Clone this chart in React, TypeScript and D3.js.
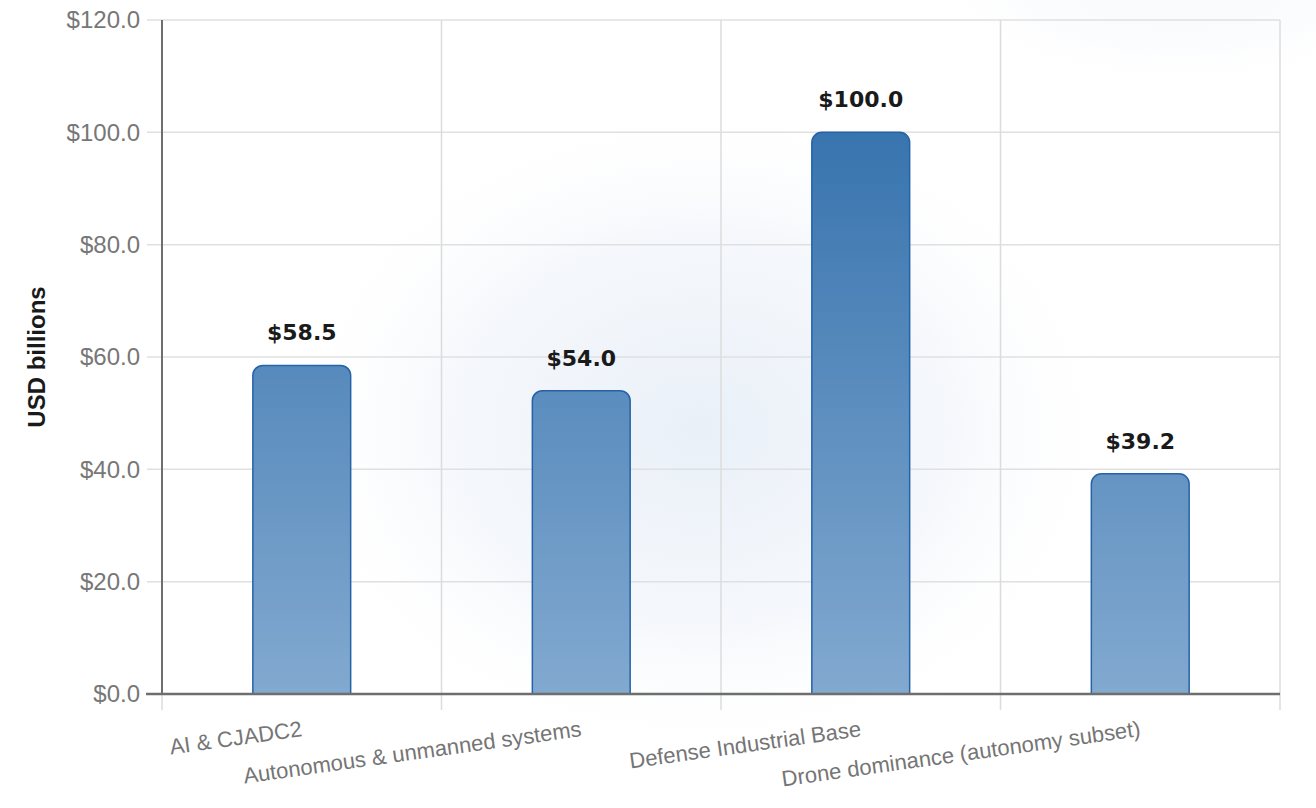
import { useEffect, useRef } from 'react';
import * as d3 from 'd3';

const CATEGORIES = [
  'AI & CJADC2',
  'Autonomous & unmanned systems',
  'Defense Industrial Base',
  'Drone dominance (autonomy subset)',
];
const VALUES = [58.5, 54.0, 100.0, 39.2];
const Y_TICKS = [0, 20, 40, 60, 80, 100, 120];

const WIDTH = 1316;
const HEIGHT = 808;

export default function App() {
  const svgRef = useRef<SVGSVGElement>(null);

  useEffect(() => {
    if (!svgRef.current) return;
    const margin = { top: 20, right: 36, bottom: 114, left: 162 };
    const innerW = WIDTH - margin.left - margin.right;
    const innerH = HEIGHT - margin.top - margin.bottom;

    const svg = d3.select(svgRef.current);
    svg.selectAll('*').remove();
    svg.attr('width', WIDTH).attr('height', HEIGHT);

    const defs = svg.append('defs');
    const glow = defs.append('radialGradient').attr('id', 'glow');
    glow.append('stop').attr('offset', '0%').attr('stop-color', '#e9f0f8').attr('stop-opacity', 1);
    glow.append('stop').attr('offset', '60%').attr('stop-color', '#f3f6fb').attr('stop-opacity', 0.8);
    glow.append('stop').attr('offset', '100%').attr('stop-color', '#ffffff').attr('stop-opacity', 0);

    const y = d3.scaleLinear().domain([0, 120]).range([innerH, 0]);
    const x = d3.scaleBand<string>().domain(CATEGORIES).range([0, innerW]).paddingInner(0).paddingOuter(0);

    const barGrad = defs.append('linearGradient')
      .attr('id', 'barGrad')
      .attr('gradientUnits', 'userSpaceOnUse')
      .attr('x1', 0).attr('x2', 0)
      .attr('y1', y(100)).attr('y2', y(0));
    barGrad.append('stop').attr('offset', '0%').attr('stop-color', '#3874ae');
    barGrad.append('stop').attr('offset', '100%').attr('stop-color', '#82a9d0');

    // background glows
    svg.append('ellipse')
      .attr('cx', 700).attr('cy', 430).attr('rx', 420).attr('ry', 330)
      .attr('fill', 'url(#glow)');
    svg.append('ellipse')
      .attr('cx', 1180).attr('cy', -20).attr('rx', 260).attr('ry', 110)
      .attr('fill', 'url(#glow)').attr('opacity', 0.4);

    const g = svg.append('g').attr('transform', `translate(${margin.left},${margin.top})`);

    // horizontal grid + y ticks
    Y_TICKS.forEach(v => {
      g.append('line')
        .attr('x1', -15).attr('x2', innerW)
        .attr('y1', y(v)).attr('y2', y(v))
        .attr('stroke', '#e0e0e0').attr('stroke-width', 1.5);
      g.append('text')
        .attr('x', -22).attr('y', y(v))
        .attr('dy', '0.35em')
        .attr('text-anchor', 'end')
        .attr('font-family', '"Liberation Sans", Arial, sans-serif')
        .attr('font-size', 24)
        .attr('fill', '#777777')
        .text(`$${v.toFixed(1)}`);
    });

    // vertical grid at band boundaries
    const bounds = CATEGORIES.map(c => x(c) as number).concat([innerW]);
    bounds.forEach(bx => {
      g.append('line')
        .attr('x1', bx).attr('x2', bx)
        .attr('y1', 0).attr('y2', innerH + 16)
        .attr('stroke', '#dcdcdc').attr('stroke-width', 1.5);
    });

    // bars
    const barW = x.bandwidth() * 0.35;
    const r = 10;
    CATEGORIES.forEach((c, i) => {
      const cx = (x(c) as number) + x.bandwidth() / 2;
      const x0 = cx - barW / 2;
      const x1 = cx + barW / 2;
      const top = y(VALUES[i]);
      const bottom = y(0);
      const p = d3.path();
      p.moveTo(x0, bottom);
      p.lineTo(x0, top + r);
      p.arcTo(x0, top, x0 + r, top, r);
      p.lineTo(x1 - r, top);
      p.arcTo(x1, top, x1, top + r, r);
      p.lineTo(x1, bottom);
      g.append('path')
        .attr('d', p.toString())
        .attr('fill', 'url(#barGrad)')
        .attr('stroke', '#2463a8')
        .attr('stroke-width', 1.5);

      g.append('text')
        .attr('x', cx).attr('y', top - 25)
        .attr('text-anchor', 'middle')
        .attr('font-family', '"DejaVu Sans", sans-serif')
        .attr('font-weight', 'bold')
        .attr('font-size', 22)
        .attr('fill', '#1a1a1a')
        .text(`$${VALUES[i].toFixed(1)}`);

      g.append('text')
        .attr('transform', `translate(${cx + 1},${innerH + 42}) rotate(-8)`)
        .attr('text-anchor', 'end')
        .attr('font-family', '"Liberation Sans", Arial, sans-serif')
        .attr('font-size', 22)
        .attr('fill', '#757575')
        .text(c);
    });

    // axes lines
    g.append('line')
      .attr('x1', 0).attr('x2', 0).attr('y1', 0).attr('y2', innerH)
      .attr('stroke', '#6e6e6e').attr('stroke-width', 2);
    g.append('line')
      .attr('x1', -16).attr('x2', innerW).attr('y1', innerH).attr('y2', innerH)
      .attr('stroke', '#6e6e6e').attr('stroke-width', 2.5);

    // y title
    svg.append('text')
      .attr('transform', `translate(45,${margin.top + innerH * 0.5}) rotate(-90)`)
      .attr('text-anchor', 'middle')
      .attr('font-family', '"Liberation Sans", Arial, sans-serif')
      .attr('font-weight', 'bold')
      .attr('font-size', 24)
      .attr('fill', '#1a1a1a')
      .text('USD billions');
  }, []);

  return (
    <div style={{ position: 'absolute', left: 0, top: 0, width: WIDTH, height: HEIGHT, background: '#fff' }}>
      <svg ref={svgRef} style={{ display: 'block' }} />
    </div>
  );
}
